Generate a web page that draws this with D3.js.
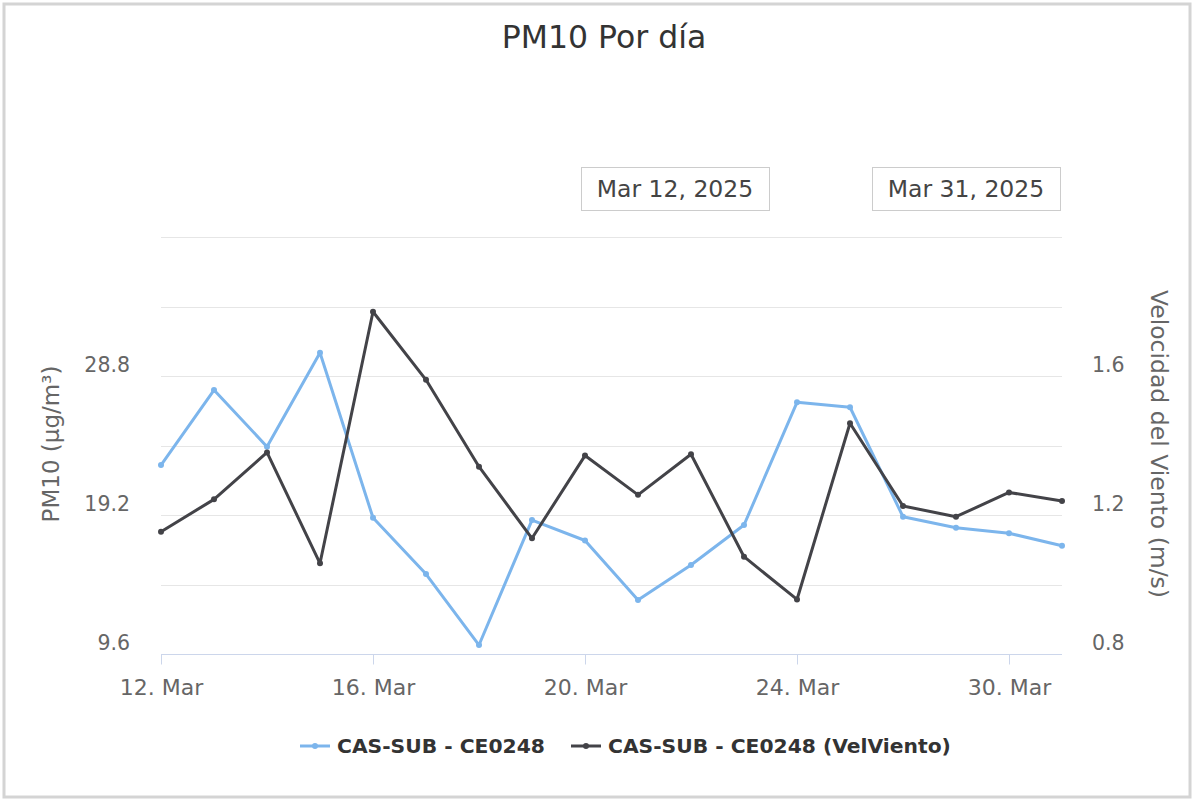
<!DOCTYPE html>
<html>
<head>
<meta charset="utf-8">
<script src="https://cdn.jsdelivr.net/npm/d3@7"></script>
<style>
  body { margin: 0; background: #fff; }
  svg text { font-family: "DejaVu Sans", sans-serif; }
</style>
</head>
<body>
<svg id="chart" width="1196" height="801"></svg>
<script>
// dias con dato (eje ordinal, faltan algunos dias)
var dias = ["2025-03-12","2025-03-13","2025-03-14","2025-03-15","2025-03-16","2025-03-17",
  "2025-03-18","2025-03-19","2025-03-20","2025-03-21","2025-03-22","2025-03-23","2025-03-24",
  "2025-03-25","2025-03-27","2025-03-29","2025-03-30","2025-03-31"];
var pm10 = [22.65, 27.83, 23.92, 30.41, 19.01, 15.12, 10.22, 18.85, 17.44, 13.33, 15.75,
  18.51, 26.98, 26.64, 19.08, 18.32, 17.94, 17.08];
var viento = [1.152, 1.245, 1.380, 1.061, 1.785, 1.589, 1.339, 1.133, 1.371, 1.258, 1.375,
  1.080, 0.957, 1.464, 1.226, 1.195, 1.265, 1.240];
var ticksX = ["2025-03-12","2025-03-16","2025-03-20","2025-03-24","2025-03-30"];
var ticksPm = [9.6, 19.2, 28.8];
var gridPm = [9.6, 14.4, 19.2, 24, 28.8, 33.6, 38.4];
var ticksViento = [0.8, 1.2, 1.6];
var series = ["CAS-SUB - CE0248", "CAS-SUB - CE0248 (VelViento)"];

var svg = d3.select("#chart");
var parse = d3.timeParse("%Y-%m-%d");
var fmt = d3.timeFormat("%-d. %b");

// borde del contenedor
svg.append("rect").attr("x", 4).attr("y", 4).attr("width", 1186).attr("height", 793)
  .attr("fill", "none").attr("stroke", "#d4d4d4").attr("stroke-width", 3);

var pLeft = 161, pRight = 1062, pTop = 237, pBottom = 654;

var x = d3.scaleLinear().domain([0, dias.length - 1]).range([pLeft, pRight]);
var yPm = d3.scaleLinear().domain([9.6, 38.4]).range([pBottom, pTop]);
var yV = d3.scaleLinear().domain([0.8, 2.0]).range([pBottom, pTop]);

// titulo
svg.append("text").attr("x", 604).attr("y", 48).attr("text-anchor", "middle")
  .attr("font-size", 31.5).attr("fill", "#333").text("PM10 Por día");

// cajas de rango
[["Mar 12, 2025", 581], ["Mar 31, 2025", 872]].forEach(function(b) {
  svg.append("rect").attr("x", b[1] + 0.5).attr("y", 167.5).attr("width", 188).attr("height", 43)
    .attr("fill", "#fff").attr("stroke", "#ccc");
  svg.append("text").attr("x", b[1] + 94).attr("y", 197).attr("text-anchor", "middle")
    .attr("font-size", 23.5).attr("fill", "#444").text(b[0]);
});

// grid
svg.append("g").selectAll("line").data(gridPm).enter().append("line")
  .attr("x1", pLeft).attr("x2", pRight)
  .attr("y1", function(d) { return Math.round(yPm(d)) + 0.5; })
  .attr("y2", function(d) { return Math.round(yPm(d)) + 0.5; })
  .attr("stroke", "#e6e6e6");

// eje x
var idx = ticksX.map(function(t) { return dias.indexOf(t); });
var xAxis = d3.axisBottom(x).tickValues(idx).tickSize(10).tickPadding(15)
  .tickFormat(function(i) { return fmt(parse(dias[i])); });
var gx = svg.append("g").attr("transform", "translate(0," + (pBottom + 0.5) + ")").call(xAxis);
gx.select(".domain").attr("stroke", "#ccd6eb").attr("d", "M" + pLeft + ",0H" + pRight);
gx.selectAll(".tick line").attr("stroke", "#ccd6eb");
gx.selectAll(".tick text").attr("font-size", 22).attr("fill", "#666");

// eje izquierdo
var gl = svg.append("g").attr("transform", "translate(" + pLeft + ",0)")
  .call(d3.axisLeft(yPm).tickValues(ticksPm).tickSize(0).tickPadding(31).tickFormat(d3.format(".1f")));
gl.select(".domain").remove();
gl.selectAll(".tick text").attr("font-size", 20.5).attr("fill", "#666").attr("dy", "-0.2em");

// eje derecho
var gr = svg.append("g").attr("transform", "translate(" + pRight + ",0)")
  .call(d3.axisRight(yV).tickValues(ticksViento).tickSize(0).tickPadding(30).tickFormat(d3.format(".1f")));
gr.select(".domain").remove();
gr.selectAll(".tick text").attr("font-size", 20.5).attr("fill", "#666").attr("dy", "-0.2em");

// titulos de ejes
svg.append("text").attr("transform", "translate(59,444) rotate(-90)")
  .attr("text-anchor", "middle").attr("font-size", 23).attr("fill", "#666")
  .text("PM10 (µg/m³)");
svg.append("text").attr("transform", "translate(1151,444) rotate(90)")
  .attr("text-anchor", "middle").attr("font-size", 23.5).attr("fill", "#666")
  .text("Velocidad del Viento (m/s)");

// lineas
function dibujar(vals, y, color, ancho) {
  var line = d3.line().x(function(d, i) { return x(i); }).y(function(d) { return y(d); });
  svg.append("path").datum(vals).attr("d", line).attr("fill", "none")
    .attr("stroke", color).attr("stroke-width", ancho).attr("stroke-linejoin", "round");
  svg.append("g").selectAll("circle").data(vals).enter().append("circle")
    .attr("cx", function(d, i) { return x(i); }).attr("cy", function(d) { return y(d); })
    .attr("r", 3).attr("fill", color);
}
dibujar(pm10, yPm, "#7cb5ec", 3);
dibujar(viento, yV, "#434348", 3);

// leyenda
var leg = [[series[0], "#7cb5ec", 300], [series[1], "#434348", 571]];
leg.forEach(function(l) {
  svg.append("line").attr("x1", l[2]).attr("x2", l[2] + 30).attr("y1", 746).attr("y2", 746)
    .attr("stroke", l[1]).attr("stroke-width", 3);
  svg.append("circle").attr("cx", l[2] + 15).attr("cy", 746).attr("r", 3).attr("fill", l[1]);
  svg.append("text").attr("x", l[2] + 37).attr("y", 753).attr("font-size", 20.3)
    .attr("font-weight", "bold").attr("fill", "#333").text(l[0]);
});
</script>
</body>
</html>
